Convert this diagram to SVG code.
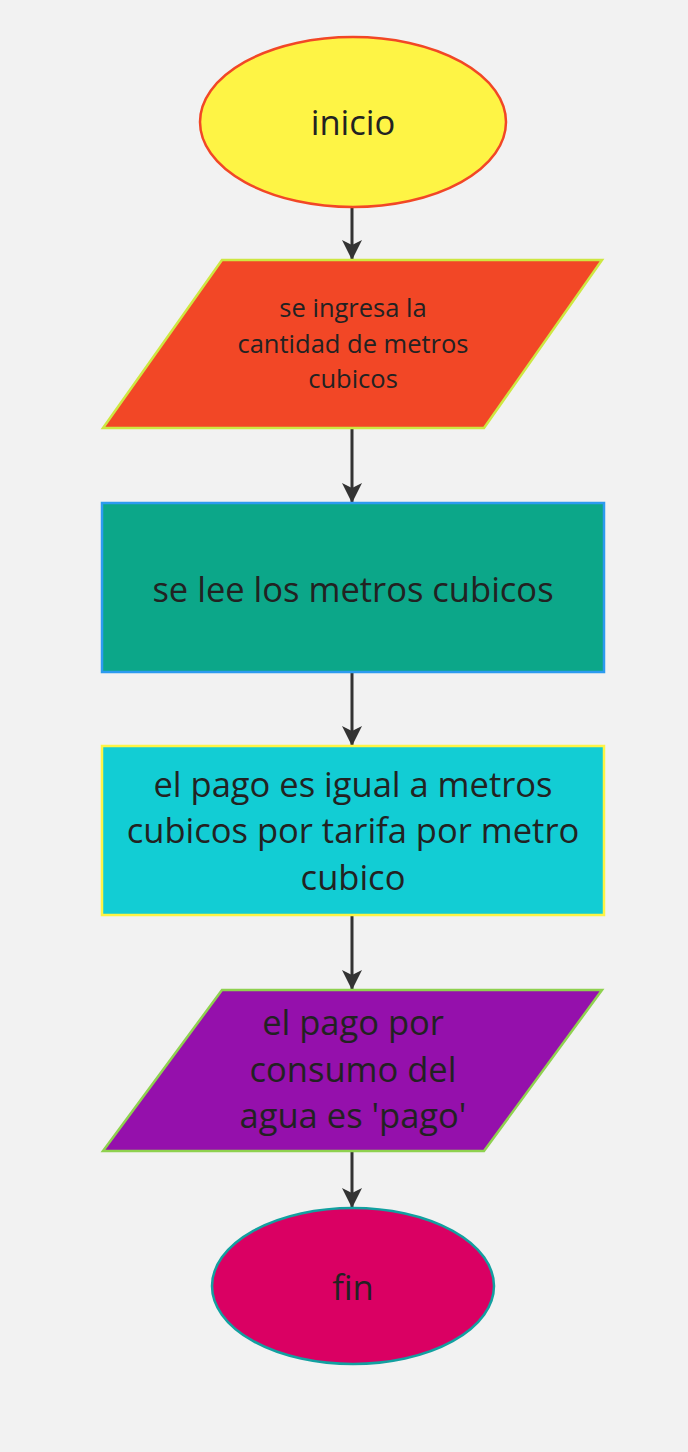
<svg xmlns="http://www.w3.org/2000/svg" width="688" height="1452" viewBox="0 0 688 1452">
<defs>
<style>
.t{font-family:"Open Sans","Noto Sans","Liberation Sans",sans-serif;fill:#222;text-anchor:middle}
.big{font-size:34.5px}
.small{font-size:25.5px}
.conn{stroke:#333;stroke-width:3;fill:none}
</style>
<marker id="ah" viewBox="0 0 20 20" refX="19" refY="10" markerWidth="20" markerHeight="20" markerUnits="userSpaceOnUse" orient="auto">
<path d="M0,0 L20,10 L0,20 L5,10 Z" fill="#333"/>
</marker>
</defs>
<rect x="0" y="0" width="688" height="1452" fill="#f2f2f2"/>
<g id="connectors">
<line class="conn" x1="352" y1="208" x2="352" y2="259" marker-end="url(#ah)"/>
<line class="conn" x1="352" y1="429" x2="352" y2="502" marker-end="url(#ah)"/>
<line class="conn" x1="352" y1="673" x2="352" y2="745" marker-end="url(#ah)"/>
<line class="conn" x1="352" y1="916" x2="352" y2="989" marker-end="url(#ah)"/>
<line class="conn" x1="352" y1="1152" x2="352" y2="1207" marker-end="url(#ah)"/>
</g>
<g id="inicio">
<ellipse cx="353" cy="122" rx="153" ry="85" fill="#fef445" stroke="#f24726" stroke-width="2.5"/>
<text class="t big" x="353" y="135">inicio</text>
</g>
<g id="ingreso">
<polygon points="222,260 602,260 484,428 103,428" fill="#f24726" stroke="#cee741" stroke-width="2.5"/>
<text class="t small" x="353" y="317">se ingresa la</text>
<text class="t small" x="353" y="353">cantidad de metros</text>
<text class="t small" x="353" y="388">cubicos</text>
</g>
<g id="lectura">
<rect x="102" y="503" width="502" height="169" fill="#0ca789" stroke="#2d9bf0" stroke-width="2.5"/>
<text class="t big" x="353" y="602">se lee los metros cubicos</text>
</g>
<g id="calculo">
<rect x="102" y="746" width="502" height="169" fill="#12cdd4" stroke="#fef445" stroke-width="2.5"/>
<text class="t big" x="353" y="797">el pago es igual a metros</text>
<text class="t big" x="353" y="843">cubicos por tarifa por metro</text>
<text class="t big" x="353" y="890">cubico</text>
</g>
<g id="salida">
<polygon points="222,990 602,990 484,1151 103,1151" fill="#9510ac" stroke="#8fd14f" stroke-width="2.5"/>
<text class="t big" x="353" y="1035">el pago por</text>
<text class="t big" x="353" y="1082">consumo del</text>
<text class="t big" x="353" y="1128">agua es 'pago'</text>
</g>
<g id="fin">
<ellipse cx="353" cy="1286" rx="141" ry="78" fill="#da0063" stroke="#12a0a0" stroke-width="2.5"/>
<text class="t big" x="353" y="1300">fin</text>
</g>
</svg>
